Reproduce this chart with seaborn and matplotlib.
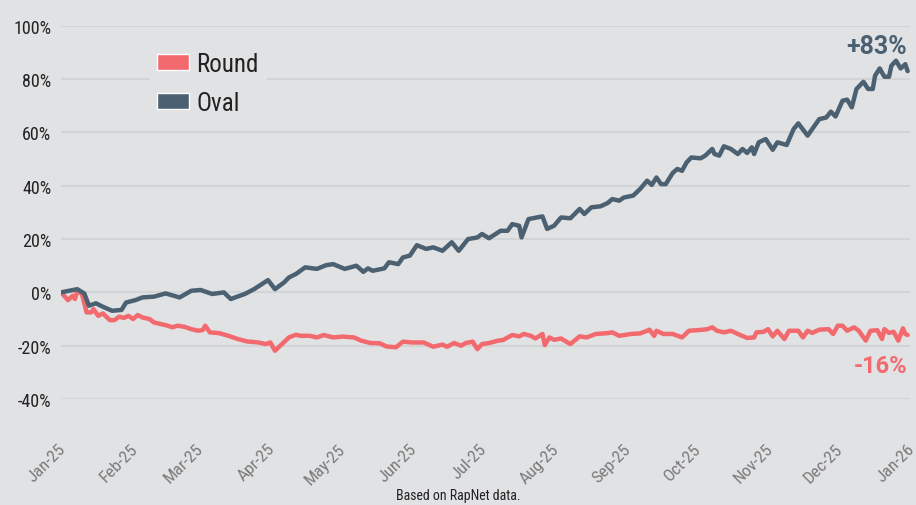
import pandas as pd
import matplotlib
matplotlib.use('Agg')
import matplotlib.pyplot as plt
import matplotlib.dates as mdates
import matplotlib.ticker as ticker
from matplotlib.patches import Patch
from matplotlib.transforms import ScaledTranslation
import seaborn as sns

BG = '#e1e2e4'
RED = '#f2696e'
SLATE = '#4b6172'

sns.set_theme(style='white')
sns.set(
    rc={
        'axes.facecolor': BG,
        'figure.facecolor': BG,
        'grid.color': '#d3d4d6',
        'text.color': '#222222',
        'ytick.color': '#222222',
        'xtick.color': '#7a7a7a',
    }
)
plt.rcParams['font.family'] = ['Roboto Condensed', 'DejaVu Sans']
plt.rcParams['font.stretch'] = 'condensed'

# day offsets from 2025-01-01 and % change
oval_days = [0, 7, 10, 12, 15, 18, 22, 26, 28, 32, 35, 40, 45, 51, 56, 60, 65, 70, 73, 79,
             83, 89, 92, 96, 98, 101, 105, 110, 114, 117, 122, 127, 130, 132, 134, 139, 141, 145,
             147, 150, 153, 157, 160, 164, 168, 171, 175, 179, 181, 184, 189, 192, 194, 197, 198,
             201, 207, 209, 212, 215, 219, 223, 225, 228, 232, 235, 237, 240, 242, 246, 249, 252,
             254, 256, 258, 260, 263, 265, 267, 269, 271, 275, 277, 280, 281, 283, 285, 288, 291,
             293, 295, 297, 298, 300, 303, 306, 308, 312, 315, 317, 321, 323, 326, 329, 331, 333,
             336, 338, 340, 342, 345, 347, 349, 350, 352, 354, 356, 357, 359, 361, 363, 364]
oval_vals = [0, 1.2, -0.4, -5.0, -4.1, -5.4, -6.9, -6.6, -3.8, -2.9, -1.9, -1.6, -0.4, -1.9, 0.6,
             0.9, -0.6, 0, -2.5, -0.6, 1.2, 4.6, 1.2, 3.8, 5.6, 6.9, 9.4, 8.8, 10.2, 10.6, 8.8,
             10.0, 7.7, 9.0, 8.1, 9.0, 11.3, 10.6, 13.1, 13.8, 17.7, 16.3, 16.9, 15.6, 18.8, 15.6,
             20.0, 20.6, 21.9, 20.3, 23.1, 23.1, 25.6, 25.0, 20.6, 27.5, 28.5, 23.8, 25.0, 28.1,
             27.8, 31.3, 29.4, 31.9, 32.3, 33.5, 35.0, 34.4, 35.6, 36.3, 38.8, 41.9, 40.3, 43.1,
             40.6, 40.6, 44.8, 46.3, 45.6, 48.8, 50.6, 50.3, 51.3, 53.8, 51.9, 51.3, 54.8, 53.8,
             51.9, 53.8, 52.3, 54.4, 51.9, 56.3, 57.5, 53.5, 56.3, 55.3, 61.3, 63.4, 58.8, 61.3,
             65.0, 65.6, 67.8, 66.0, 71.9, 72.3, 69.4, 76.3, 79.0, 76.3, 76.3, 81.3, 84.0, 80.9,
             80.9, 85.0, 86.9, 84.0, 85.6, 83.0]

round_days = [0, 3, 5, 6, 7, 9, 11, 13, 14, 16, 18, 21, 23, 25, 27, 29, 31, 33, 35, 38, 40, 45,
              48, 50, 53, 56, 59, 61, 62, 64, 68, 72, 76, 80, 85, 88, 90, 92, 95, 98, 101, 103,
              107, 110, 113, 117, 121, 126, 129, 133, 137, 140, 144, 147, 151, 156, 160, 164, 166,
              169, 172, 174, 177, 179, 181, 184, 188, 190, 194, 197, 199, 202, 204, 207, 208, 210,
              212, 215, 219, 223, 226, 230, 235, 237, 240, 245, 249, 252, 253, 255, 256, 259, 263,
              267, 270, 275, 278, 280, 282, 285, 288, 292, 295, 298, 299, 302, 304, 306, 308, 311,
              313, 317, 319, 321, 323, 326, 330, 332, 334, 336, 338, 341, 343, 346, 348, 351, 353,
              354, 356, 358, 360, 362, 363, 364]
round_vals = [0, -2.9, -1.3, -2.5, 0.6, -0.6, -7.5, -7.5, -6.3, -8.8, -7.9, -10.4, -10.4, -9.1,
              -9.6, -8.8, -10.0, -8.5, -9.4, -10.0, -11.3, -12.3, -13.1, -12.5, -12.9, -13.8,
              -14.4, -14.1, -12.5, -15.0, -15.3, -16.3, -17.5, -18.4, -18.8, -19.4, -18.8, -21.9,
              -19.4, -16.9, -15.9, -16.3, -16.3, -16.9, -16.0, -16.9, -16.6, -16.9, -18.1, -19.0,
              -19.1, -20.3, -20.6, -18.5, -18.8, -18.8, -20.4, -19.6, -20.4, -19.0, -20.0, -19.0,
              -18.5, -21.3, -19.4, -19.0, -18.1, -17.9, -16.0, -16.5, -15.6, -16.3, -17.3, -15.6,
              -19.8, -16.9, -17.8, -17.3, -19.4, -16.5, -16.9, -15.6, -15.3, -15.0, -16.3, -15.6,
              -15.4, -14.4, -14.0, -16.3, -14.4, -15.6, -15.6, -16.9, -14.4, -14.1, -13.8, -13.1,
              -14.4, -15.0, -14.4, -16.0, -17.1, -16.9, -15.0, -14.8, -13.8, -16.5, -14.4, -17.5,
              -14.4, -14.4, -16.9, -14.4, -15.2, -14.0, -13.8, -15.6, -12.5, -12.5, -14.4, -13.1,
              -14.4, -18.1, -14.4, -14.2, -17.5, -13.8, -15.2, -14.8, -18.1, -13.5, -15.6, -16.0]

start = pd.Timestamp('2025-01-01')
df = pd.concat([
    pd.DataFrame({'date': start + pd.to_timedelta(round_days, unit='D'),
                  'value': round_vals, 'series': 'Round'}),
    pd.DataFrame({'date': start + pd.to_timedelta(oval_days, unit='D'),
                  'value': oval_vals, 'series': 'Oval'}),
])

fig = plt.figure(figsize=(9.16, 5.06), dpi=100)
ax = fig.add_axes([0.0666, 0.2095, 0.9268, 0.7375])

sns.lineplot(data=df, x='date', y='value', hue='series',
             palette={'Round': RED, 'Oval': SLATE}, linewidth=3.2,
             legend=False, ax=ax)

ax.set_xlim(start, pd.Timestamp('2026-01-01'))
ax.set_ylim(-40, 100)
ax.yaxis.set_major_locator(ticker.MultipleLocator(20))
ax.yaxis.set_major_formatter(ticker.FuncFormatter(lambda v, pos: f'{v:.0f}%'))
ax.xaxis.set_major_locator(mdates.MonthLocator())
ax.xaxis.set_major_formatter(mdates.DateFormatter('%b-%y'))
ax.grid(axis='y', linewidth=1.5)
ax.grid(axis='x', visible=False)
ax.set_xlabel('')
ax.set_ylabel('')
sns.despine(ax=ax, left=True, bottom=True)
ax.tick_params(axis='both', length=0)
ax.tick_params(axis='y', labelsize=13, pad=7)
ax.tick_params(axis='x', labelsize=12.5, pad=30)

# pull the rotated month labels a little left so Jan-26 stays inside the figure
shift = ScaledTranslation(-3 / 100, 0, fig.dpi_scale_trans)
for lbl in ax.get_xticklabels():
    lbl.set_rotation(45)
    lbl.set_ha('right')
    lbl.set_rotation_mode('anchor')
    lbl.set_transform(lbl.get_transform() + shift)

handles = [Patch(facecolor=RED, label='Round'), Patch(facecolor=SLATE, label='Oval')]
leg = ax.legend(handles=handles, loc='upper left', bbox_to_anchor=(0.09, 0.984),
                frameon=True, facecolor=BG, edgecolor=BG, framealpha=1,
                fontsize=18, handlelength=1.25, handleheight=0.65, handletextpad=0.3,
                labelspacing=0.6, borderpad=0.3)

ax.text(0.997, 0.979, '+83%', transform=ax.transAxes, ha='right', va='top',
        fontsize=18, fontweight='bold', color=SLATE, family=['Roboto', 'DejaVu Sans'],
        fontstretch='normal')
ax.text(0.997, 0.121, '-16%', transform=ax.transAxes, ha='right', va='top',
        fontsize=17, fontweight='bold', color=RED, family=['Roboto', 'DejaVu Sans'],
        fontstretch='normal')

fig.text(0.5, 0.005, 'Based on RapNet data.', ha='center', va='bottom',
         fontsize=10, color='#222222')

fig.savefig('out.png', dpi=100, facecolor=BG)
